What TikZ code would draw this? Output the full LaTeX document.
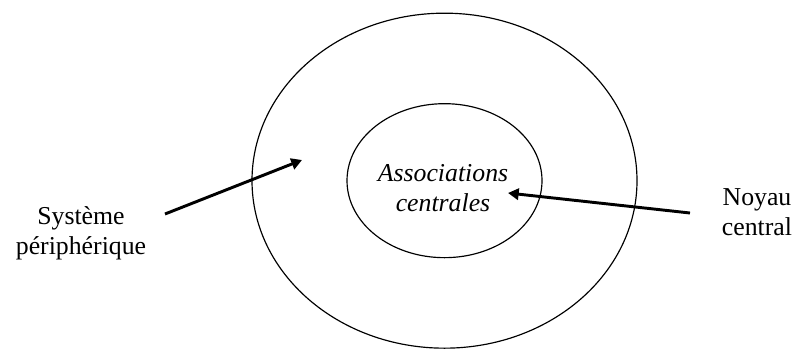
\documentclass[tikz,border=0pt]{standalone}
\usepackage{fontspec}
\setmainfont{Liberation Serif}
\usetikzlibrary{arrows.meta}
\tikzset{
  ring/.style={draw=black, line width=1pt},
  pointer/.style={draw=black, line width=2.5pt, -{Triangle[length=0.32cm,width=0.34cm]}},
  lab/.style={align=center, font=\fontsize{22}{25.5}\selectfont, inner sep=0pt},
}

\begin{document}
\begin{tikzpicture}
  \useasboundingbox (0,0) rectangle (23.88,10.47);
  \coordinate (C) at (13.335,5.05);

  % the two rings
  \draw[ring] (C) ellipse [x radius=5.775, y radius=5.025];
  \draw[ring] (C) ellipse [x radius=2.925, y radius=2.31];

  \node[lab] (core) at (13.29,4.83) {\itshape Associations\\ \itshape centrales};
  \node[lab] (periph) at (2.43,3.48) {Système\\ périphérique};
  \node[lab] (noyau) at (22.71,4.11) {Noyau\\ central};

  \coordinate (periphtail) at (4.95,4.05);
  \coordinate (periphtip) at (9.06,5.67);
  \coordinate (noyautail) at (20.70,4.08);
  \coordinate (noyautip) at (15.24,4.68);

  \draw[pointer] (periphtail) -- (periphtip);
  \draw[pointer] (noyautail) -- (noyautip);
\end{tikzpicture}
\end{document}
